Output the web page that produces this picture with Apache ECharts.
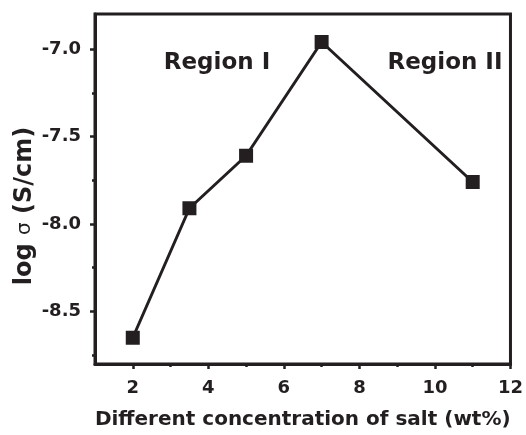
<!DOCTYPE html>
<html><head><meta charset="utf-8">
<script src="https://cdn.jsdelivr.net/npm/echarts@6/dist/echarts.min.js"></script>
<style>html,body{margin:0;padding:0;background:#fff}#c{width:526px;height:435px}</style>
</head><body><div id="c"></div>
<script>
const concentrations = [2, 3.5, 5, 7, 11];
const logSigma = [-8.65, -7.91, -7.61, -6.96, -7.76];
const xMajorTicks = [2, 4, 6, 8, 10, 12];
const xMinorTicks = [3, 5, 7, 9, 11];
const yMajorTicks = [-8.5, -8.0, -7.5, -7.0];
const yMinorTicks = [-8.75, -8.25, -7.75, -7.25];
const regionLabels = ['Region I', 'Region II'];
const xTitle = 'Different concentration of salt (wt%)';

const C = '#231f20';
const F = 'DejaVu Sans';
const chart = echarts.init(document.getElementById('c'));
const xBase = {type:'value', min:1, max:12, gridIndex:0};
const yBase = {type:'value', min:-8.8, max:-6.8, gridIndex:0};
chart.setOption({
  animation:false,
  grid:{left:95, right:13, top:14, bottom:69, show:true, borderColor:C, borderWidth:3, backgroundColor:'transparent'},
  xAxis:[
    Object.assign({}, xBase, {
      name:xTitle, nameLocation:'middle', nameGap:46,
      nameTextStyle:{fontFamily:F, fontWeight:'bold', fontSize:20, color:C},
      axisLine:{lineStyle:{color:C, width:3}},
      axisTick:{show:true, length:5, inside:false, customValues:xMajorTicks, lineStyle:{color:C, width:2.5}},
      axisLabel:{customValues:xMajorTicks, fontFamily:F, fontWeight:'bold', fontSize:18, color:C, margin:15, formatter:v=>String(v)},
      splitLine:{show:false}
    }),
    Object.assign({}, xBase, {
      position:'bottom',
      axisLine:{show:false},
      axisTick:{show:true, length:3, customValues:xMinorTicks, lineStyle:{color:C, width:2.5}},
      axisLabel:{show:false}, splitLine:{show:false}
    })
  ],
  yAxis:[
    Object.assign({}, yBase, {
      axisLine:{lineStyle:{color:C, width:3}},
      axisTick:{show:true, length:5, customValues:yMajorTicks, lineStyle:{color:C, width:2.5}},
      axisLabel:{customValues:yMajorTicks, fontFamily:F, fontWeight:'bold', fontSize:18, color:C, margin:14, formatter:v=>v.toFixed(1)},
      splitLine:{show:false}
    }),
    Object.assign({}, yBase, {
      position:'left',
      axisLine:{show:false},
      axisTick:{show:true, length:3, customValues:yMinorTicks, lineStyle:{color:C, width:2.5}},
      axisLabel:{show:false}, splitLine:{show:false}
    })
  ],
  graphic:[
    {type:'text', x:217, y:63, style:{text:regionLabels[0], font:'bold 23px "DejaVu Sans"', fill:C, align:'center', verticalAlign:'middle'}},
    {type:'text', x:445, y:63, style:{text:regionLabels[1], font:'bold 23px "DejaVu Sans"', fill:C, align:'center', verticalAlign:'middle'}},
    {type:'text', x:25, y:206, rotation:Math.PI/2, style:{
      text:'{a|log }{b|σ}{a| (S/cm)}', align:'center', verticalAlign:'middle',
      rich:{a:{fontFamily:F, fontWeight:'bold', fontSize:24, fill:C, color:C}, b:{fontFamily:F, fontWeight:'normal', fontSize:20, fill:C, color:C}}
    }}
  ],
  series:[{
    type:'line', xAxisIndex:0, yAxisIndex:0,
    data:concentrations.map((x,i)=>[x, logSigma[i]]),
    symbol:'rect', symbolSize:14,
    lineStyle:{color:C, width:3},
    itemStyle:{color:C}
  }]
});
</script></body></html>
